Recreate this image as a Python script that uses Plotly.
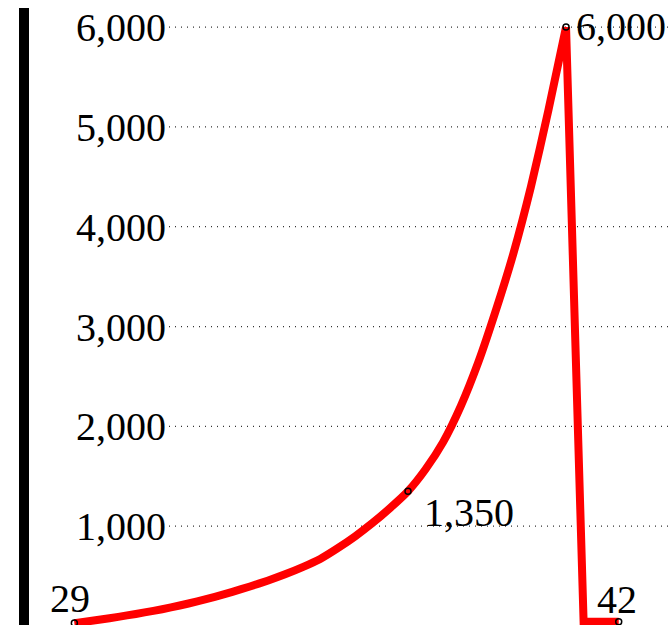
import plotly.graph_objects as go

# ---- data ----
x_steps = list(range(1, 33))
values = [29, 52, 78, 106, 136, 168, 205, 246, 292, 342,
          396, 454, 518, 590, 672, 780, 900, 1035, 1185, 1350,
          1570, 1842, 2200, 2640, 3160, 3730, 4400, 5170, 6000,
          42, 42, 42]
peak_pos = 28  # list position of the 6,000 peak
label_x = [1, 20, 29, 32]
label_vals = [29, 1350, 6000, 42]
label_text = ["29", "1,350", "6,000", "42"]
y_ticks = [1000, 2000, 3000, 4000, 5000, 6000]

FONT = "Liberation Serif"
W, H = 671, 625
L = 29

fig = go.Figure()
# smooth rising part
fig.add_trace(go.Scatter(
    x=x_steps[:peak_pos + 1], y=values[:peak_pos + 1], mode="lines",
    line=dict(color="#ff0000", width=8, shape="spline", smoothing=0.6),
    hoverinfo="skip", showlegend=False))
# sharp drop and flat tail
fig.add_trace(go.Scatter(
    x=x_steps[peak_pos:], y=values[peak_pos:], mode="lines",
    line=dict(color="#ff0000", width=8),
    hoverinfo="skip", showlegend=False))
fig.add_trace(go.Scatter(
    x=label_x, y=label_vals, mode="markers",
    marker=dict(symbol="circle-open", size=6, color="black",
                line=dict(width=1.5, color="black")),
    cliponaxis=False, hoverinfo="skip", showlegend=False))

# label offsets (px) relative to point
offs = [dict(xanchor="center", xshift=-4, yshift=25),
        dict(xanchor="left", xshift=14, yshift=-21),
        dict(xanchor="left", xshift=8, yshift=1),
        dict(xanchor="center", xshift=-2, yshift=22)]
annotations = []
for xv, yv, t, o in zip(label_x, label_vals, label_text, offs):
    annotations.append(dict(x=xv, y=yv, xref="x", yref="y", text=t,
                            showarrow=False, yanchor="middle",
                            font=dict(family=FONT, size=40, color="black"),
                            **o))

shapes = []
gx0 = (169 - L) / (W - L)
for tv in y_ticks:
    shapes.append(dict(type="line", xref="paper", yref="y",
                       x0=gx0, x1=1, y0=tv, y1=tv, layer="below",
                       line=dict(color="#333333", width=1.2, dash="1px,5px")))
# thick black bar at left
shapes.append(dict(type="rect", xref="paper", yref="paper",
                   x0=(19 - L) / (W - L), x1=0, y0=0, y1=1 - 8 / H,
                   line=dict(width=0), fillcolor="black"))

unit = 17.56
fig.update_layout(
    width=W, height=H,
    margin=dict(l=L, r=0, t=0, b=0),
    paper_bgcolor="white", plot_bgcolor="white",
    xaxis=dict(range=[20 + (L - 408) / unit, 20 + (W - 408) / unit],
               visible=False),
    yaxis=dict(range=[10, 6271], tickvals=y_ticks, tickformat=",",
               showgrid=False, zeroline=False, showline=False,
               ticks="", ticklabelposition="inside", ticklabelstandoff=44,
               tickfont=dict(family=FONT, size=40, color="black")),
    annotations=annotations, shapes=shapes,
    showlegend=False,
)
fig.write_html("out.html", config={"displayModeBar": False},
               post_script="document.body.style.margin='0';"
                           "document.documentElement.style.overflow='hidden';")
